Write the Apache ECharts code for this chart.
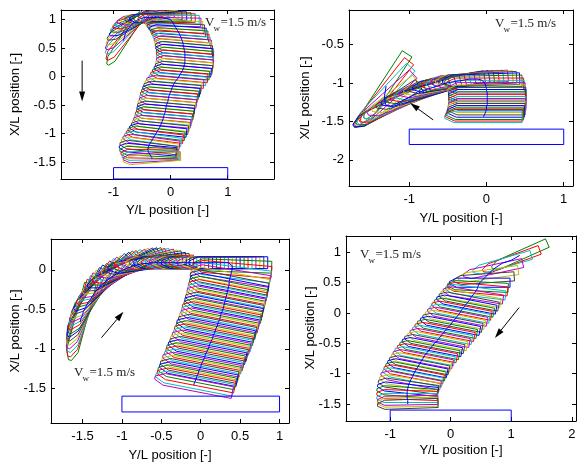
<!DOCTYPE html>
<html>
<head>
<meta charset="utf-8">
<script src="https://cdn.jsdelivr.net/npm/echarts@6/dist/echarts.min.js"></script>
<style>
  html, body { margin: 0; padding: 0; background: #fff; }
  #chart { width: 577px; height: 464px; }
</style>
</head>
<body>
<div id="chart"></div>
<script>
// Ship poses for each run: centre Y/L, centre X/L, heading (deg, from +Y axis, counter-clockwise)
const p1Y = [-0.83, -0.81, -0.79, -0.76, -0.72, -0.68, -0.62, -0.58, -0.53, -0.49, -0.44, -0.37,
  -0.30, -0.22, -0.14, -0.07, 0.00,
  0.03, 0.06, 0.09, 0.12, 0.15, 0.17, 0.19, 0.21, 0.22, 0.23, 0.24, 0.25, 0.25, 0.25, 0.25, 0.24, 0.23, 0.21, 0.18, 0.15,
  0.12, 0.08, 0.05, 0.03, 0.01, -0.01, -0.03, -0.04, -0.05, -0.07, -0.08, -0.09, -0.10, -0.12, -0.13, -0.15,
  -0.17, -0.19, -0.22, -0.25, -0.28, -0.31, -0.34, -0.37, -0.39, -0.40, -0.39, -0.37, -0.35, -0.33, -0.33];
const p1X = [0.63, 0.69, 0.77, 0.82, 0.87, 0.92, 0.96, 0.99, 1.02, 1.03, 1.04, 1.04,
  1.04, 1.04, 1.03, 1.02, 1.00,
  0.96, 0.91, 0.86, 0.81, 0.76, 0.71, 0.66, 0.61, 0.56, 0.51, 0.46, 0.41, 0.36, 0.31, 0.26, 0.21, 0.16, 0.11, 0.06, 0.01,
  -0.04, -0.09, -0.14, -0.19, -0.24, -0.29, -0.34, -0.39, -0.44, -0.49, -0.54, -0.59, -0.64, -0.69, -0.74, -0.79,
  -0.84, -0.89, -0.94, -0.99, -1.04, -1.09, -1.14, -1.19, -1.24, -1.28, -1.32, -1.36, -1.39, -1.42, -1.44];
const p1Psi = [237, 232, 227, 222, 217, 212, 207, 202, 197, 193, 189, 186,
  184, 183, 182, 181, 180,
  179, 178, 177, 176, 176, 175, 175, 175, 175, 175, 175, 175, 175, 175, 175, 175, 175, 175, 175, 175,
  175, 175, 175, 175, 175, 175, 175, 175, 175, 175, 175, 175, 175, 175, 175, 175,
  174, 174, 174, 173, 173, 172, 172, 172, 173, 175, 177, 179, 181, 183, 185];

const p2Y = [-1.30, -1.31, -1.32, -1.32, -1.31, -1.30, -1.28,
  -1.24, -1.19, -1.13, -1.07, -1.01, -0.95, -0.88, -0.82, -0.76, -0.70, -0.64, -0.58, -0.52, -0.46, -0.40,
  -0.34, -0.28, -0.22, -0.16, -0.11, -0.07, -0.04,
  -0.02, -0.01, 0.00, 0.00, 0.01, 0.01, 0.01, 0.01, 0.01, 0.01, 0.00, 0.00, -0.01, -0.02, -0.03, -0.04];
const p2X = [-1.04, -1.11, -1.16, -1.22, -1.26, -1.29, -1.31,
  -1.30, -1.28, -1.25, -1.22, -1.19, -1.16, -1.13, -1.10, -1.08, -1.06, -1.04, -1.02, -1.00, -0.99, -0.98,
  -0.97, -0.96, -0.95, -0.95, -0.95, -0.96, -0.98,
  -1.01, -1.04, -1.07, -1.10, -1.13, -1.16, -1.19, -1.22, -1.25, -1.28, -1.31, -1.34, -1.37, -1.40, -1.42, -1.44];
const p2Psi = [237, 232, 227, 222, 217, 213, 209,
  207, 205, 203, 201, 199, 197, 196, 195, 194, 193, 192, 191, 190, 189, 188,
  187, 186, 185, 184, 183, 182, 181,
  180, 180, 180, 180, 180, 180, 180, 180, 180, 180, 180, 180, 180, 180, 180, 180];

const p3Y = [-1.53, -1.52, -1.50, -1.49, -1.47, -1.45, -1.43, -1.40, -1.38, -1.35, -1.33, -1.30, -1.27, -1.23, -1.20, -1.17, -1.13,
  -1.09, -1.06, -1.02, -0.98, -0.94, -0.90, -0.86, -0.81, -0.77, -0.73, -0.68, -0.64, -0.59, -0.55,
  -0.50, -0.45, -0.40, -0.35, -0.30, -0.25, -0.20, -0.15, -0.10, -0.05, 0.00, 0.05, 0.10, 0.15, 0.20, 0.25, 0.30, 0.35,
  0.40, 0.40, 0.39, 0.38, 0.37, 0.36, 0.36, 0.35, 0.34, 0.33, 0.32, 0.31, 0.30, 0.29, 0.28, 0.26, 0.25, 0.24, 0.22, 0.21,
  0.19, 0.18, 0.16, 0.15, 0.13, 0.11, 0.10, 0.08, 0.06, 0.05, 0.03, 0.01, 0.00, -0.02, -0.03, -0.05, -0.06, -0.08, -0.09];
const p3X = [-0.66, -0.62, -0.57, -0.53, -0.49, -0.45, -0.41, -0.38, -0.34, -0.30, -0.27, -0.24, -0.20, -0.17, -0.14, -0.12, -0.09,
  -0.07, -0.04, -0.02, 0.00, 0.02, 0.03, 0.05, 0.06, 0.07, 0.08, 0.08, 0.09, 0.09, 0.09,
  0.09, 0.09, 0.09, 0.09, 0.09, 0.09, 0.09, 0.09, 0.09, 0.09, 0.09, 0.09, 0.09, 0.09, 0.09, 0.09, 0.09, 0.09,
  0.05, 0.01, -0.03, -0.07, -0.11, -0.15, -0.19, -0.23, -0.27, -0.31, -0.35, -0.39, -0.43, -0.47, -0.51, -0.55, -0.59, -0.63, -0.67, -0.71,
  -0.75, -0.79, -0.83, -0.87, -0.91, -0.95, -0.99, -1.03, -1.07, -1.11, -1.15, -1.19, -1.23, -1.27, -1.31, -1.35, -1.39, -1.43, -1.46];
const p3Psi = [255, 252.5, 250, 247.5, 245, 242.5, 240, 237.5, 235, 232.5, 230, 227.5, 225, 222.5, 220, 217.5, 215,
  212.5, 210, 207.5, 205, 202.5, 200, 197.5, 195, 192.5, 190, 187.5, 185, 182.5, 180,
  180, 180, 180, 180, 180, 180, 180, 180, 180, 180, 180, 180, 180, 180, 180, 180, 180, 180,
  178, 175, 173, 171, 170, 169, 169, 169, 169, 169, 169, 169, 169, 169, 169, 169, 169, 169, 169, 169,
  169, 169, 169, 169, 169, 169, 169, 169, 169, 169, 169, 169, 169, 169, 169, 169, 169, 169, 169];

const p4Y = [1.14, 1.00, 0.85, 0.70, 0.62, 0.55, 0.48, 0.45,
  0.44, 0.41, 0.37, 0.33, 0.30, 0.26, 0.22, 0.18, 0.15, 0.11, 0.07, 0.03, -0.01, -0.06, -0.10, -0.14,
  -0.18, -0.22, -0.27, -0.31, -0.35, -0.39, -0.43, -0.46, -0.49, -0.52, -0.55, -0.58, -0.61, -0.63, -0.66,
  -0.68, -0.70, -0.71, -0.72, -0.72, -0.72, -0.71, -0.71, -0.71];
const p4X = [0.95, 0.87, 0.82, 0.72, 0.64, 0.57, 0.50, 0.44,
  0.40, 0.35, 0.30, 0.25, 0.20, 0.15, 0.10, 0.05, 0.00, -0.05, -0.10, -0.15, -0.20, -0.25, -0.30, -0.35,
  -0.40, -0.45, -0.50, -0.55, -0.60, -0.65, -0.70, -0.75, -0.80, -0.85, -0.90, -0.95, -1.00, -1.05, -1.10,
  -1.15, -1.20, -1.25, -1.30, -1.35, -1.40, -1.44, -1.47, -1.50];
const p4Psi = [204, 200, 196, 192, 188, 184, 180, 177,
  175, 173, 171, 170, 169, 169, 169, 169, 169, 169, 169, 169, 169, 169, 169, 169,
  169, 169, 169, 169, 169, 169, 169, 169, 169, 169, 169, 169, 169, 169, 169,
  171, 172, 174, 176, 178, 180, 181, 181, 182];

// Quay outline (Y/L span, X/L span)
const dockY = [-1, 1];
const dockX = [-1.8, -1.6];

// Wind arrows: tail Y, tail X, head Y, head X
const arrowP1 = [-1.55, 0.28, -1.55, -0.44];
const arrowP2 = [-0.69, -1.48, -0.99, -1.26];
const arrowP3 = [-1.26, -0.86, -0.98, -0.53];
const arrowP4 = [1.13, 0.09, 0.73, -0.41];

// Tick values
const p1YTicks = [-1, 0, 1];
const p1XTicks = [-1.5, -1, -0.5, 0, 0.5, 1];
const p2YTicks = [-1, 0, 1];
const p2XTicks = [-2, -1.5, -1, -0.5];
const p3YTicks = [-1.5, -1, -0.5, 0, 0.5, 1];
const p3XTicks = [-1.5, -1, -0.5, 0];
const p4YTicks = [-1, 0, 1, 2];
const p4XTicks = [-1.5, -1, -0.5, 0, 0.5, 1];

const windText = ['V', 'w', '=1.5 m/s'];
const hTitle = 'Y/L position [-]';
const vTitle = 'X/L position [-]';

// MATLAB line colour order, starting after the blue trajectory line
const SHIP_COLORS = ['#008000', '#ff0000', '#00bfbf', '#bf00bf', '#bfbf00', '#404040', '#0000ff'];
// Hull outline in ship-length units (stern at -0.5, bow at +0.5)
const HULL = [[-0.5, -0.075], [0.38, -0.075], [0.5, -0.02], [0.5, 0.02], [0.38, 0.075], [-0.5, 0.075]];

const panels = [
  { Y: p1Y, X: p1X, P: p1Psi, arrow: arrowP1, hT: p1YTicks, vT: p1XTicks,
    grid: { left: 61, top: 10, width: 213, height: 169 }, hr: [-1.92, 1.81], vr: [-1.80, 1.17] },
  { Y: p2Y, X: p2X, P: p2Psi, arrow: arrowP2, hT: p2YTicks, vT: p2XTicks,
    grid: { left: 349, top: 10, width: 224, height: 176 }, hr: [-1.78, 1.12], vr: [-2.34, -0.05] },
  { Y: p3Y, X: p3X, P: p3Psi, arrow: arrowP3, hT: p3YTicks, vT: p3XTicks,
    grid: { left: 51, top: 239, width: 238, height: 184 }, hr: [-1.90, 1.12], vr: [-1.94, 0.39] },
  { Y: p4Y, X: p4X, P: p4Psi, arrow: arrowP4, hT: p4YTicks, vT: p4XTicks,
    grid: { left: 346, top: 236, width: 230, height: 185 }, hr: [-1.73, 2.07], vr: [-1.78, 1.27] }
];

const FONT = '"Liberation Sans", Arial, sans-serif';

function renderShip(params, api) {
  const y = api.value(0), x = api.value(1), a = api.value(2) * Math.PI / 180;
  const c = Math.cos(a), s = Math.sin(a);
  const pts = HULL.map(([u, v]) => api.coord([y + u * c - v * s, x + u * s + v * c]));
  return {
    type: 'polygon',
    shape: { points: pts },
    style: { fill: 'none', stroke: SHIP_COLORS[params.dataIndex % SHIP_COLORS.length], lineWidth: 1 }
  };
}

function renderArrow(params, api) {
  const p0 = api.coord([api.value(0), api.value(1)]);
  const p1 = api.coord([api.value(2), api.value(3)]);
  const dx = p1[0] - p0[0], dy = p1[1] - p0[1], len = Math.hypot(dx, dy);
  const ux = dx / len, uy = dy / len, hl = 10, hw = 3;
  const b = [p1[0] - ux * hl, p1[1] - uy * hl];
  return {
    type: 'group',
    children: [
      { type: 'line', shape: { x1: p0[0], y1: p0[1], x2: b[0], y2: b[1] }, style: { stroke: '#000', lineWidth: 1 } },
      { type: 'polygon', shape: { points: [p1, [b[0] - uy * hw, b[1] + ux * hw], [b[0] + uy * hw, b[1] - ux * hw]] },
        style: { fill: '#000' } }
    ]
  };
}

const grids = [], xAxes = [], yAxes = [], series = [], graphics = [];

function axisCommon(ticks, showLabel, margin) {
  return {
    type: 'value',
    axisLine: { show: true, onZero: false, lineStyle: { color: '#000', width: 1 } },
    axisTick: { show: true, inside: true, length: 4, customValues: ticks, lineStyle: { color: '#000' } },
    axisLabel: showLabel
      ? { show: true, customValues: ticks, margin: margin, color: '#000', fontSize: 13, fontFamily: FONT,
          formatter: v => String(v) }
      : { show: false },
    splitLine: { show: false }
  };
}

panels.forEach((p, i) => {
  grids.push(Object.assign({ outerBoundsMode: 'none', containLabel: false }, p.grid));
  xAxes.push(Object.assign(axisCommon(p.hT, true, 7), { gridIndex: i, position: 'bottom', min: p.hr[0], max: p.hr[1] }));
  xAxes.push(Object.assign(axisCommon(p.hT, false, 0), { gridIndex: i, position: 'top', min: p.hr[0], max: p.hr[1] }));
  yAxes.push(Object.assign(axisCommon(p.vT, true, 5), { gridIndex: i, position: 'left', min: p.vr[0], max: p.vr[1] }));
  yAxes.push(Object.assign(axisCommon(p.vT, false, 0), { gridIndex: i, position: 'right', min: p.vr[0], max: p.vr[1] }));

  const ships = p.Y.map((v, k) => [v, p.X[k], p.P[k]]);
  series.push({
    type: 'custom', xAxisIndex: 2 * i, yAxisIndex: 2 * i, renderItem: renderShip,
    data: ships, encode: { x: 0, y: 1 }, clip: true, z: 2, silent: true
  });
  series.push({
    type: 'line', xAxisIndex: 2 * i, yAxisIndex: 2 * i, data: p.Y.map((v, k) => [v, p.X[k]]),
    symbol: 'none', lineStyle: { color: '#0000ff', width: 1 }, z: 3, silent: true
  });
  series.push({
    type: 'line', xAxisIndex: 2 * i, yAxisIndex: 2 * i,
    data: [[dockY[0], dockX[0]], [dockY[1], dockX[0]], [dockY[1], dockX[1]], [dockY[0], dockX[1]], [dockY[0], dockX[0]]],
    symbol: 'none', lineStyle: { color: '#0000ff', width: 1 }, z: 3, silent: true
  });
  series.push({
    type: 'custom', xAxisIndex: 2 * i, yAxisIndex: 2 * i, renderItem: renderArrow,
    data: [p.arrow], encode: { x: [0, 2], y: [1, 3] }, z: 4, silent: true
  });
});

// Axis titles
const hTitlePos = [[167.5, 210], [461, 218], [170, 455], [461, 450]];
const vTitlePos = [[15, 94.5], [305, 98], [15, 331], [310, 328]];
hTitlePos.forEach(([x, y]) => graphics.push({
  type: 'text', x: x, y: y, silent: true,
  style: { text: hTitle, font: '13px ' + FONT, fill: '#000', align: 'center', verticalAlign: 'middle' }
}));
vTitlePos.forEach(([x, y]) => graphics.push({
  type: 'text', x: x, y: y, rotation: Math.PI / 2, silent: true,
  style: { text: vTitle, font: '13px ' + FONT, fill: '#000', align: 'center', verticalAlign: 'middle' }
}));

// Wind speed labels (left edge, baseline)
const windPos = [[205, 27], [495, 28], [74, 377], [360, 259.5]];
const SERIF = '"Liberation Serif", "Times New Roman", serif';
windPos.forEach(([x, y]) => {
  graphics.push({ type: 'text', x: x, y: y - 4.5, silent: true,
    style: { text: windText[0], font: '13px ' + SERIF, fill: '#222', align: 'left', verticalAlign: 'middle' } });
  graphics.push({ type: 'text', x: x + 8.5, y: y + 1.5, silent: true,
    style: { text: windText[1], font: '9px ' + SERIF, fill: '#222', align: 'left', verticalAlign: 'middle' } });
  graphics.push({ type: 'text', x: x + 15.5, y: y - 4.5, silent: true,
    style: { text: windText[2], font: '13px ' + SERIF, fill: '#222', align: 'left', verticalAlign: 'middle' } });
});

const chart = echarts.init(document.getElementById('chart'), null, { renderer: 'canvas' });
chart.setOption({
  animation: false,
  backgroundColor: '#fff',
  grid: grids,
  xAxis: xAxes,
  yAxis: yAxes,
  series: series,
  graphic: graphics
});
</script>
</body>
</html>
